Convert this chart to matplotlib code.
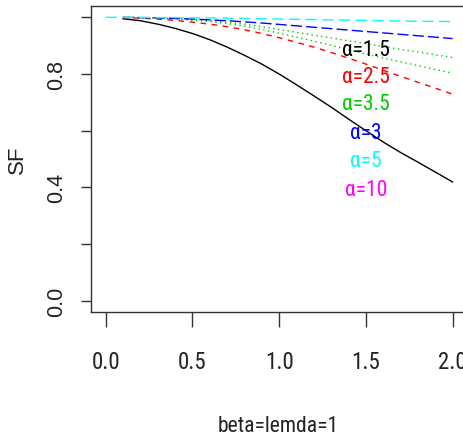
import matplotlib
matplotlib.use("Agg")
import matplotlib.pyplot as plt

# ---- data ----
x = [0.1, 0.2, 0.3, 0.4, 0.5, 0.6, 0.7, 0.8, 0.9, 1.0,
     1.1, 1.2, 1.3, 1.4, 1.5, 1.6, 1.7, 1.8, 1.9, 2.0]
x_cyan = [0.0] + x

sf_black = [0.995, 0.988, 0.976, 0.961, 0.943, 0.921, 0.895, 0.866, 0.835, 0.800,
            0.762, 0.723, 0.683, 0.641, 0.600, 0.560, 0.523, 0.489, 0.454, 0.419]
sf_red = [0.999, 0.997, 0.994, 0.989, 0.983, 0.976, 0.967, 0.956, 0.943, 0.928,
          0.912, 0.895, 0.876, 0.856, 0.835, 0.813, 0.792, 0.771, 0.750, 0.729]
sf_green1 = [1.000, 0.999, 0.998, 0.996, 0.993, 0.989, 0.983, 0.976, 0.967, 0.957,
             0.947, 0.937, 0.927, 0.917, 0.907, 0.897, 0.887, 0.878, 0.868, 0.858]
sf_green2 = [1.000, 0.999, 0.997, 0.994, 0.990, 0.985, 0.978, 0.969, 0.957, 0.944,
             0.930, 0.916, 0.901, 0.886, 0.871, 0.856, 0.843, 0.830, 0.816, 0.803]
sf_blue = [1.000, 0.999, 0.998, 0.996, 0.994, 0.991, 0.988, 0.984, 0.980, 0.975,
           0.970, 0.965, 0.960, 0.955, 0.950, 0.945, 0.940, 0.935, 0.930, 0.925]
sf_cyan = [1.000, 1.000, 1.000, 0.999, 0.999, 0.998, 0.998, 0.997, 0.996, 0.995, 0.994,
           0.993, 0.992, 0.991, 0.990, 0.989, 0.988, 0.987, 0.986, 0.986, 0.985]

labels = ["α=1.5", "α=2.5", "α=3.5", "α=3", "α=5", "α=10"]
label_y = [0.887, 0.792, 0.697, 0.595, 0.493, 0.394]
label_x = 1.5

xticks = [0.0, 0.5, 1.0, 1.5, 2.0]
xtick_labels = ["0.0", "0.5", "1.0", "1.5", "2.0"]
yticks = [0.0, 0.2, 0.4, 0.6, 0.8, 1.0]
ytick_labels = ["0.0", "", "0.4", "", "0.8", ""]

# ---- styles ----
narrow = ["Roboto Condensed", "Liberation Sans", "DejaVu Sans"]
regular = ["Liberation Sans", "DejaVu Sans"]
c_green = "#00CD00"
label_colors = ["black", "red", c_green, "blue", "cyan", "magenta"]
txtc = "#222222"

W, H = 464, 439
fig = plt.figure(figsize=(W / 100, H / 100), dpi=100)
L, R, T, B = 91, 466.6, 7, 313
ax = fig.add_axes([L / W, 1 - B / H, (R - L) / W, (B - T) / H])

lw = 1.0
ax.plot(x, sf_black, color="black", lw=lw)
ax.plot(x, sf_red, color="red", lw=lw, dashes=(4, 4))
ax.plot(x, sf_green1, color=c_green, lw=lw, dashes=(1, 2.5))
ax.plot(x, sf_green2, color=c_green, lw=lw, dashes=(1, 2.5))
ax.plot(x, sf_blue, color="blue", lw=lw, dashes=(8, 3))
ax.plot(x_cyan, sf_cyan, color="cyan", lw=lw, dashes=(8, 4))

for lab, yy, cc in zip(labels, label_y, label_colors):
    ax.text(label_x, yy, lab, color=cc, fontsize=15.5, family=narrow,
            ha="center", va="center")

ax.set_xlim(-0.0848, 2.081)
ax.set_ylim(-0.04, 1.04)

ax.set_xticks(xticks)
ax.set_xticklabels(xtick_labels, family=narrow, fontsize=16.5, color=txtc)
ax.set_yticks(yticks)
ax.set_yticklabels(ytick_labels, family=regular, fontsize=15.5, color=txtc,
                   rotation=90, va="center")
ax.tick_params(axis="x", direction="out", length=10.6, width=1.0, pad=17, color="#333333")
ax.tick_params(axis="y", direction="out", length=7.2, width=1.0, pad=10, color="#333333")

for s in ax.spines.values():
    s.set_color("#333333")
    s.set_linewidth(1.0)

fig.text(278 / W, 1 - 426.7 / H, "beta=lemda=1", family=narrow, fontsize=15.5,
         color=txtc, ha="center", va="center")
fig.text(17.5 / W, 1 - 160 / H, "SF", family=regular, fontsize=16, color=txtc,
         rotation=90, ha="center", va="center")

fig.savefig("out.png", dpi=100)
